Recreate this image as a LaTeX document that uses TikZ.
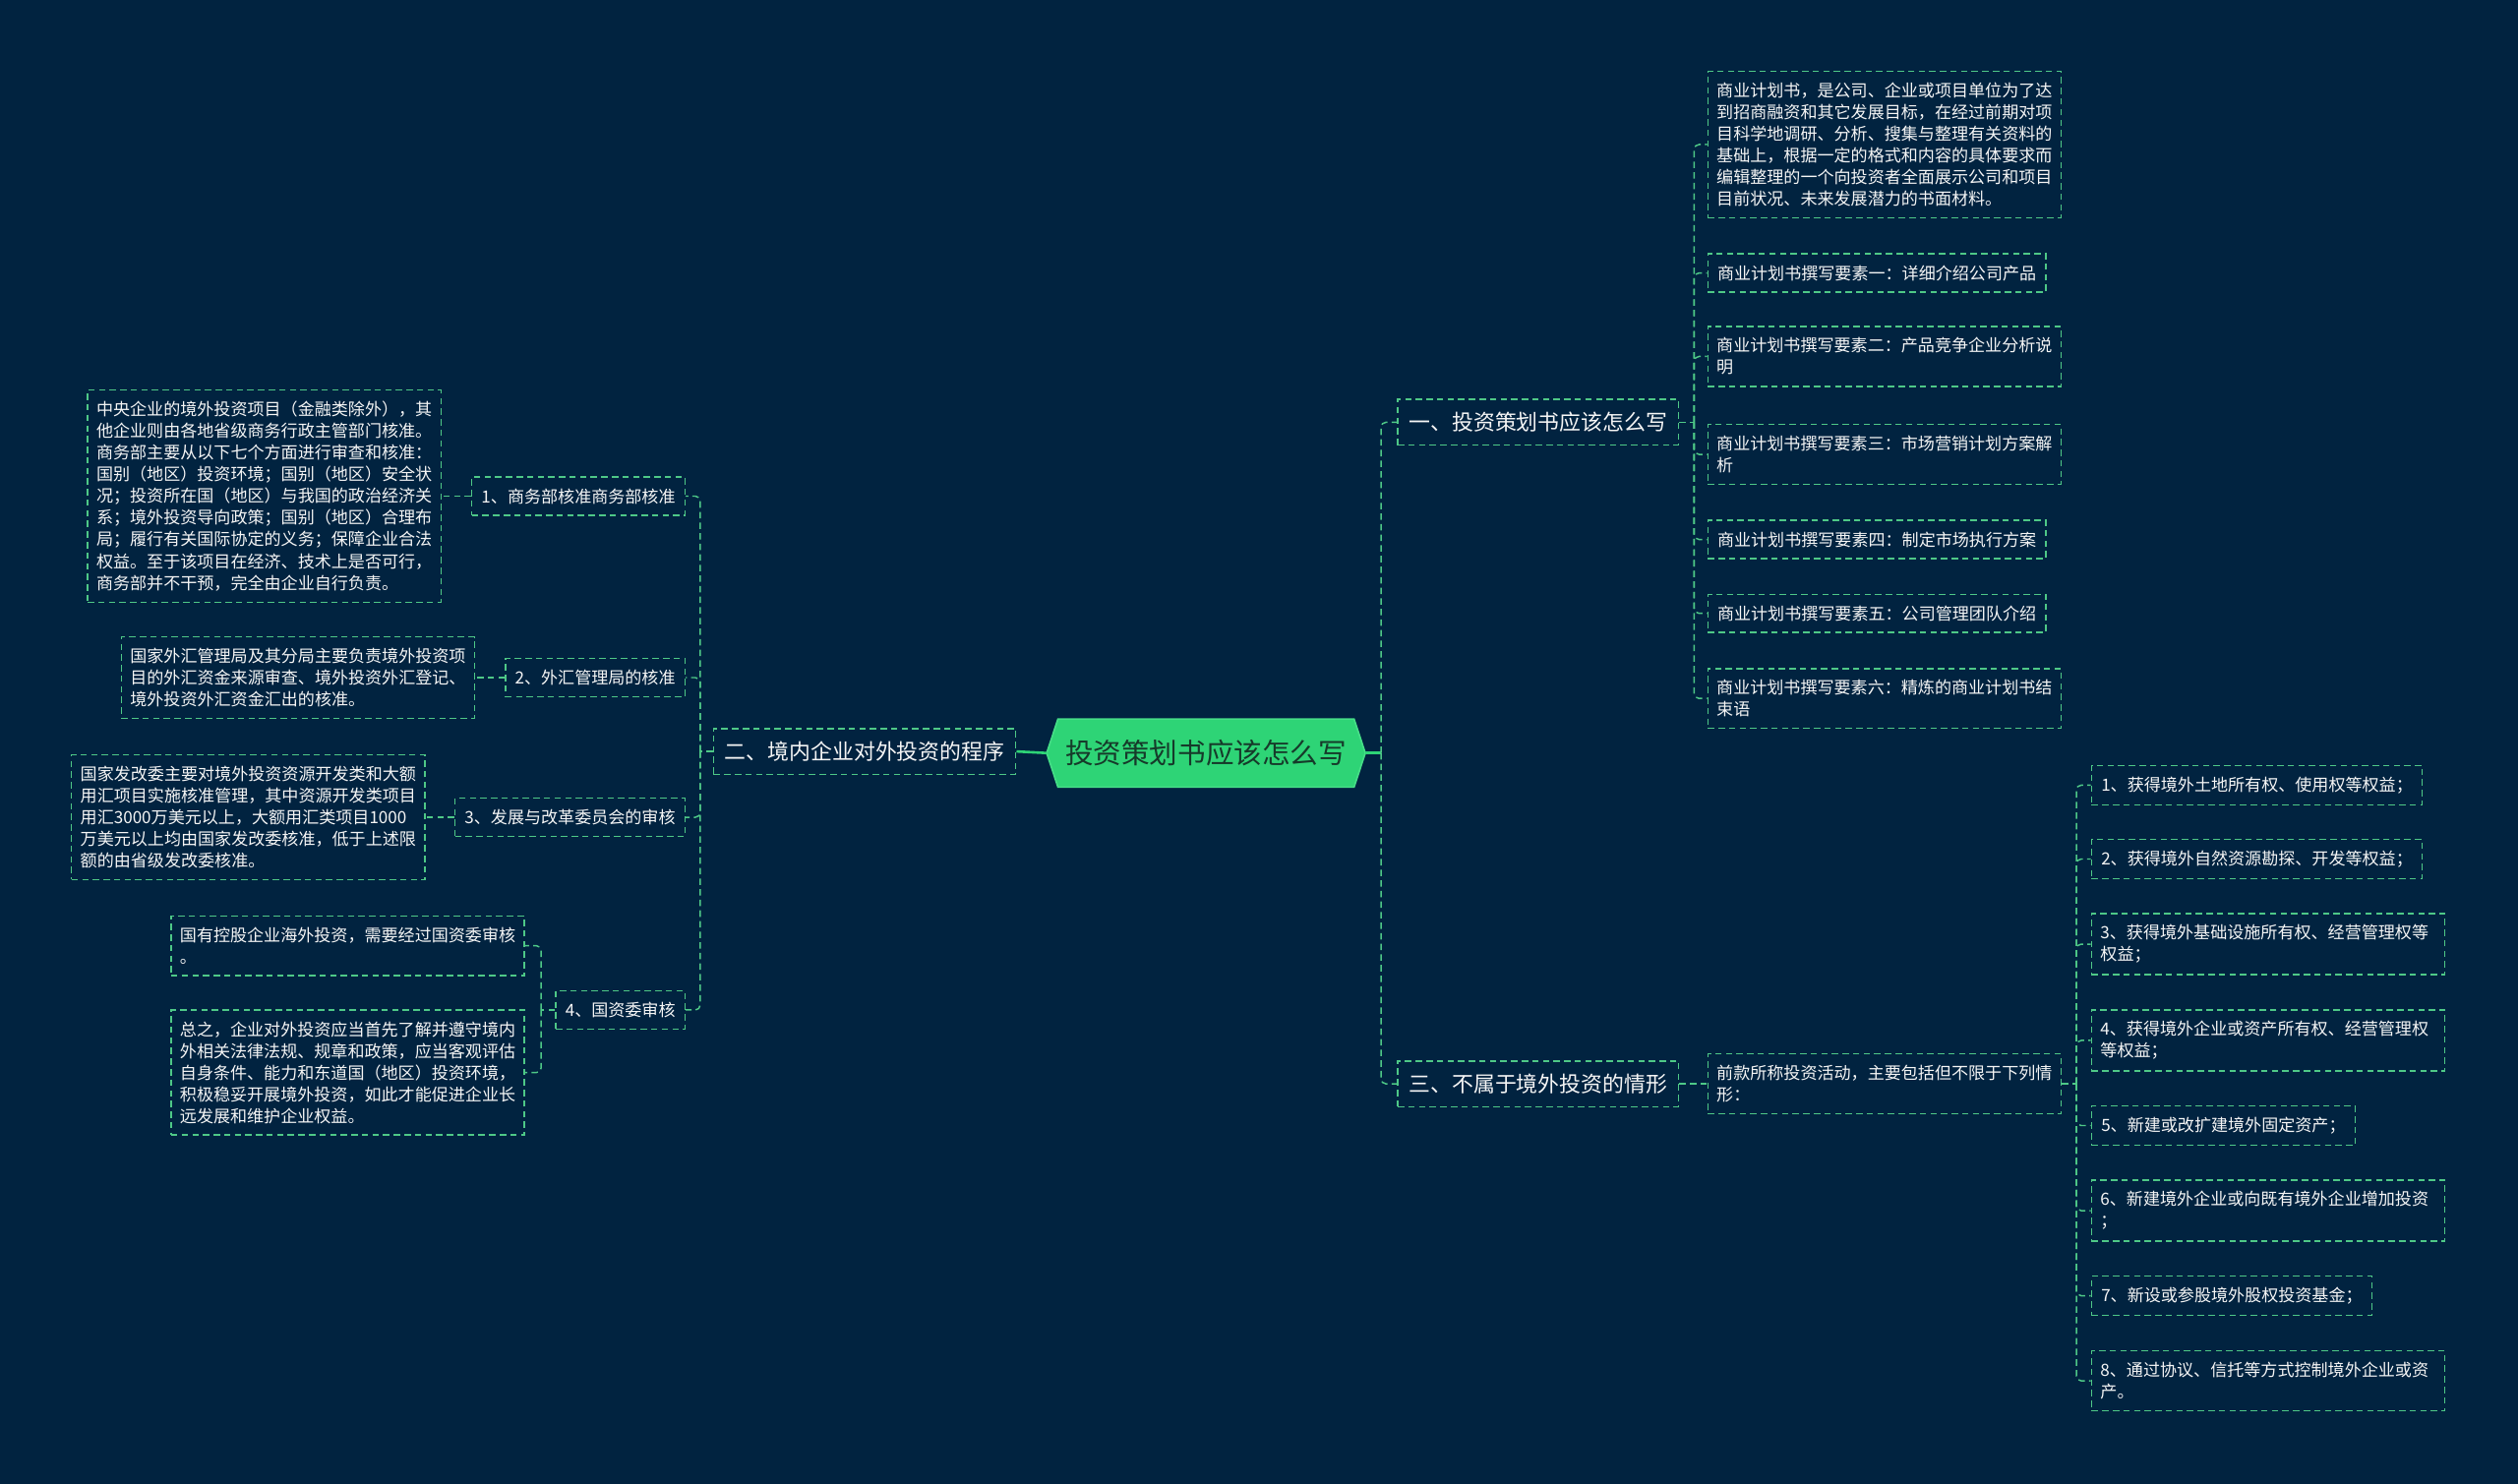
\documentclass[tikz,border=0pt]{standalone}
\usepackage{fontspec}
\setmainfont{Noto Sans CJK SC}
\usetikzlibrary{calc}
\pgfdeclarelayer{background}
\pgfsetlayers{background,main}
\definecolor{bgc}{RGB}{1,35,64}
\definecolor{lnc}{RGB}{78,200,135}
\definecolor{rootc}{RGB}{46,212,118}
\definecolor{rootedge}{RGB}{70,222,135}
\definecolor{roottext}{RGB}{22,58,42}
\definecolor{txt}{RGB}{245,245,245}
\tikzset{
  dashline/.style={draw=lnc, line width=0.9pt, dash pattern=on 4pt off 2.6pt},
  box/.style={dashline, text=txt, font=\fontsize{10.45}{13.5}\selectfont, align=left, inner xsep=6pt, inner ysep=7pt},
  widebox/.style={box, text width=209pt, inner xsep=5.5pt},
  branch/.style={dashline, text=txt, font=\fontsize{13.4}{16}\selectfont, inner xsep=7pt, inner ysep=8pt},
  conn/.style={dashline, rounded corners=3pt},
  solidconn/.style={draw=rootc, line width=1.6pt},
  rootnode/.style={text=roottext, font=\fontsize{17.5}{20}\selectfont, minimum width=184pt, minimum height=42pt, inner sep=0pt}
}
\begin{document}
\begin{tikzpicture}[x=1pt,y=-1pt]
\useasboundingbox (0,0) rectangle (1568,924);

% root
\node[rootnode] (root) at (751,469) {投资策划书应该怎么写};
\coordinate (rootR) at ($(root.east)+(7,0)$);
\coordinate (rootL) at ($(root.west)+(-7,0)$);
\begin{pgfonlayer}{background}
\fill[bgc] (0,0) rectangle (1568,924);
\filldraw[fill=rootc, draw=rootedge, line width=1pt] (root.north west) -- (root.north east) -- (rootR) -- (root.south east) -- (root.south west) -- (rootL) -- cycle;
\end{pgfonlayer}

% main branches
\node[branch, anchor=west] (b1) at (870,263) {一、投资策划书应该怎么写};
\node[branch, anchor=west] (b3) at (870,675) {三、不属于境外投资的情形};
\node[branch, anchor=east] (b2) at (633,468) {二、境内企业对外投资的程序};

% branch 1 children
\node[widebox, anchor=west] (a1) at (1063,90) {商业计划书，是公司、企业或项目单位为了达\\到招商融资和其它发展目标，在经过前期对项\\目科学地调研、分析、搜集与整理有关资料的\\基础上，根据一定的格式和内容的具体要求而\\编辑整理的一个向投资者全面展示公司和项目\\目前状况、未来发展潜力的书面材料。};
\node[box, anchor=west] (a2) at (1063,170) {商业计划书撰写要素一：详细介绍公司产品};
\node[widebox, anchor=west] (a3) at (1063,222) {商业计划书撰写要素二：产品竞争企业分析说\\明};
\node[widebox, anchor=west] (a4) at (1063,283) {商业计划书撰写要素三：市场营销计划方案解\\析};
\node[box, anchor=west] (a5) at (1063,336) {商业计划书撰写要素四：制定市场执行方案};
\node[box, anchor=west] (a6) at (1063,382) {商业计划书撰写要素五：公司管理团队介绍};
\node[widebox, anchor=west] (a7) at (1063,435) {商业计划书撰写要素六：精炼的商业计划书结\\束语};

% branch 3 children
\node[widebox, anchor=west] (bq) at (1063,675) {前款所称投资活动，主要包括但不限于下列情\\形：};
\node[box, anchor=west] (c1) at (1302,489) {1、获得境外土地所有权、使用权等权益；};
\node[box, anchor=west] (c2) at (1302,535) {2、获得境外自然资源勘探、开发等权益；};
\node[widebox, anchor=west] (c3) at (1302,588) {3、获得境外基础设施所有权、经营管理权等\\权益；};
\node[widebox, anchor=west] (c4) at (1302,648) {4、获得境外企业或资产所有权、经营管理权\\等权益；};
\node[box, anchor=west] (c5) at (1302,701) {5、新建或改扩建境外固定资产；};
\node[widebox, anchor=west] (c6) at (1302,754) {6、新建境外企业或向既有境外企业增加投资\\；};
\node[box, anchor=west] (c7) at (1302,807) {7、新设或参股境外股权投资基金；};
\node[widebox, anchor=west] (c8) at (1302,860) {8、通过协议、信托等方式控制境外企业或资\\产。};

% branch 2 children
\node[box, anchor=east] (l1) at (427,309) {1、商务部核准商务部核准};
\node[box, anchor=east] (l2) at (427,422) {2、外汇管理局的核准};
\node[box, anchor=east] (l3) at (427,509) {3、发展与改革委员会的审核};
\node[box, anchor=east] (l4) at (427,629) {4、国资委审核};

\node[widebox, anchor=east] (l1a) at (275,309) {中央企业的境外投资项目（金融类除外），其\\他企业则由各地省级商务行政主管部门核准。\\商务部主要从以下七个方面进行审查和核准：\\国别（地区）投资环境；国别（地区）安全状\\况；投资所在国（地区）与我国的政治经济关\\系；境外投资导向政策；国别（地区）合理布\\局；履行有关国际协定的义务；保障企业合法\\权益。至于该项目在经济、技术上是否可行，\\商务部并不干预，完全由企业自行负责。};
\node[widebox, anchor=east] (l2a) at (296,422) {国家外汇管理局及其分局主要负责境外投资项\\目的外汇资金来源审查、境外投资外汇登记、\\境外投资外汇资金汇出的核准。};
\node[widebox, anchor=east] (l3a) at (265,509) {国家发改委主要对境外投资资源开发类和大额\\用汇项目实施核准管理，其中资源开发类项目\\用汇3000万美元以上，大额用汇类项目1000\\万美元以上均由国家发改委核准，低于上述限\\额的由省级发改委核准。};
\node[widebox, anchor=east] (l4a) at (327,589) {国有控股企业海外投资，需要经过国资委审核\\。};
\node[widebox, anchor=east] (l4b) at (327,668) {总之，企业对外投资应当首先了解并遵守境内\\外相关法律法规、规章和政策，应当客观评估\\自身条件、能力和东道国（地区）投资环境，\\积极稳妥开展境外投资，如此才能促进企业长\\远发展和维护企业权益。};

% connectors: root
\coordinate (rj) at (860,469);
\draw[solidconn] (rootR) -- (rj);
\draw[conn] (rj) |- (b1.west);
\draw[conn] (rj) |- (b3.west);
\draw[solidconn] (rootL) -- (b2.east);

% branch 1
\coordinate (aj) at (1055,263);
\draw[conn] (b1.east) -- (aj);
\foreach \n in {a1,a2,a3,a4,a5,a6,a7} {\draw[conn] (aj) |- (\n.west);}

% branch 3
\draw[conn] (b3.east) -- (bq.west);
\coordinate (bj) at (1293,675);
\draw[conn] (bq.east) -- (bj);
\foreach \n in {c1,c2,c3,c4,c5,c6,c7,c8} {\draw[conn] (bj) |- (\n.west);}

% branch 2
\coordinate (lj) at (436,468);
\draw[conn] (b2.west) -- (lj);
\foreach \n in {l1,l2,l3,l4} {\draw[conn] (lj) |- (\n.east);}
\draw[conn] (l1.west) -- (l1a.east);
\draw[conn] (l2.west) -- (l2a.east);
\draw[conn] (l3.west) -- (l3a.east);
\coordinate (l4j) at (337,629);
\draw[conn] (l4.west) -- (l4j);
\draw[conn] (l4j) |- (l4a.east);
\draw[conn] (l4j) |- (l4b.east);
\end{tikzpicture}
\end{document}
